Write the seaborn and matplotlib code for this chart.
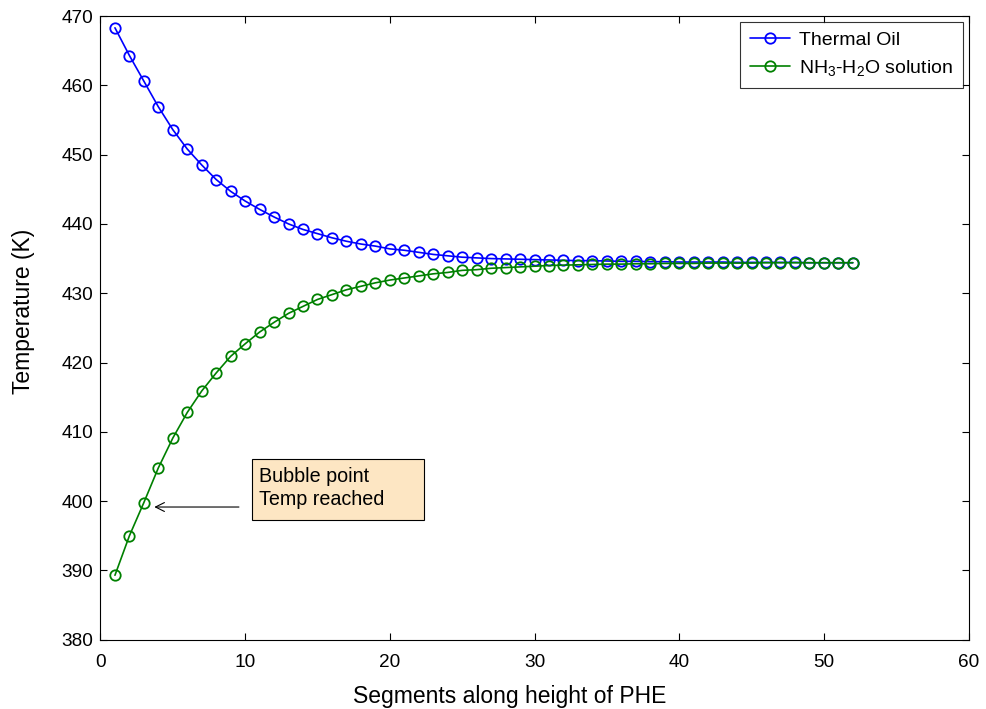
import numpy as np
import pandas as pd
import matplotlib
matplotlib.use("Agg")
import matplotlib.pyplot as plt
from matplotlib.patches import Rectangle
import seaborn as sns

# Temperature profiles along the plate heat exchanger segments
segments = list(range(1, 53))
thermal_oil = [
    468.3, 464.3, 460.6, 456.9, 453.6, 450.8, 448.5, 446.4, 444.7, 443.3,
    442.1, 441.0, 440.0, 439.2, 438.6, 438.0, 437.5, 437.1, 436.8, 436.4,
    436.2, 435.9, 435.6, 435.4, 435.2, 435.1, 435.0, 434.95, 434.9, 434.85,
    434.8, 434.75, 434.7, 434.7, 434.65, 434.6, 434.6, 434.55, 434.55, 434.5,
    434.5, 434.5, 434.5, 434.45, 434.45, 434.45, 434.45, 434.45, 434.4, 434.4,
    434.4, 434.4,
]
nh3_h2o = [
    389.3, 395.0, 399.8, 404.8, 409.1, 412.8, 415.9, 418.5, 420.9, 422.7,
    424.4, 425.8, 427.1, 428.1, 429.1, 429.8, 430.5, 431.0, 431.5, 431.9,
    432.2, 432.5, 432.8, 433.0, 433.3, 433.4, 433.6, 433.7, 433.8, 433.9,
    434.0, 434.05, 434.1, 434.15, 434.2, 434.2, 434.25, 434.25, 434.3, 434.3,
    434.3, 434.35, 434.35, 434.35, 434.35, 434.4, 434.4, 434.4, 434.4, 434.4,
    434.4, 434.4,
]
series_labels = ["Thermal Oil", r"NH$_3$-H$_2$O solution"]
series_colors = ["#0000ff", "#008000"]

x_ticks = list(range(0, 61, 10))
y_ticks = list(range(380, 471, 10))

# Annotation: the bubble point is reached at the third segment
bubble_segment = 3
bubble_temp = nh3_h2o[bubble_segment - 1]
note_text = "Bubble point\nTemp reached"

sns.set_style("ticks")
plt.rcParams["font.family"] = ["Liberation Sans", "DejaVu Sans"]
plt.rcParams["mathtext.fontset"] = "custom"
plt.rcParams["mathtext.rm"] = "Liberation Sans"
plt.rcParams["mathtext.it"] = "Liberation Sans:italic"
plt.rcParams["text.color"] = "black"
plt.rcParams["axes.labelcolor"] = "black"

df = pd.DataFrame({"segment": segments, "oil": thermal_oil, "sol": nh3_h2o})

fig = plt.figure(figsize=(9.86, 7.09), dpi=100)
ax = fig.add_axes([0.1019, 0.0977, 0.8804, 0.8797])

for col, lab, c in zip(["oil", "sol"], series_labels, series_colors):
    sns.lineplot(
        data=df, x="segment", y=col, ax=ax, color=c, label=lab,
        linewidth=1.2, marker="o", markersize=7.5,
        markerfacecolor="none", markeredgecolor=c, markeredgewidth=1.3,
    )

ax.set_xlim(0, 60)
ax.set_ylim(380, 470)
ax.set_xticks(x_ticks)
ax.set_yticks(y_ticks)
ax.tick_params(direction="in", top=True, right=True, length=5, width=0.8,
               labelsize=13.7, colors="black")
ax.tick_params(axis="x", pad=10)
ax.tick_params(axis="y", pad=5)
for s in ax.spines.values():
    s.set_visible(True)
    s.set_linewidth(0.8)
    s.set_color("black")

ax.set_xlabel("Segments along height of PHE", fontsize=16.5)
ax.set_ylabel("Temperature (K)", fontsize=16.5)
ax.xaxis.set_label_coords(0.4718, -0.073)
ax.yaxis.set_label_coords(-0.0755, 0.526)

leg = ax.legend(loc="upper right", fontsize=14, frameon=True, fancybox=False,
                borderaxespad=0.3, handlelength=2.1, handletextpad=0.45,
                labelspacing=0.45, borderpad=0.5)
leg.get_frame().set_edgecolor("black")
leg.get_frame().set_linewidth(0.8)

# Text box for the bubble point note
ax.add_patch(Rectangle((10.47, 397.3), 11.89, 8.8, facecolor="#fde6c3",
                       edgecolor="black", linewidth=0.8, zorder=4))
ax.text(10.95, 401.9, note_text, fontsize=14.2, ha="left", va="center",
        linespacing=1.3, zorder=5)
ax.annotate(
    "", xy=(bubble_segment + 0.72, bubble_temp - 0.65),
    xytext=(9.57, bubble_temp - 0.65),
    arrowprops=dict(arrowstyle="->", color="black", linewidth=0.8,
                    shrinkA=0, shrinkB=0, mutation_scale=16),
    zorder=5,
)

fig.savefig("out.png", dpi=100)
